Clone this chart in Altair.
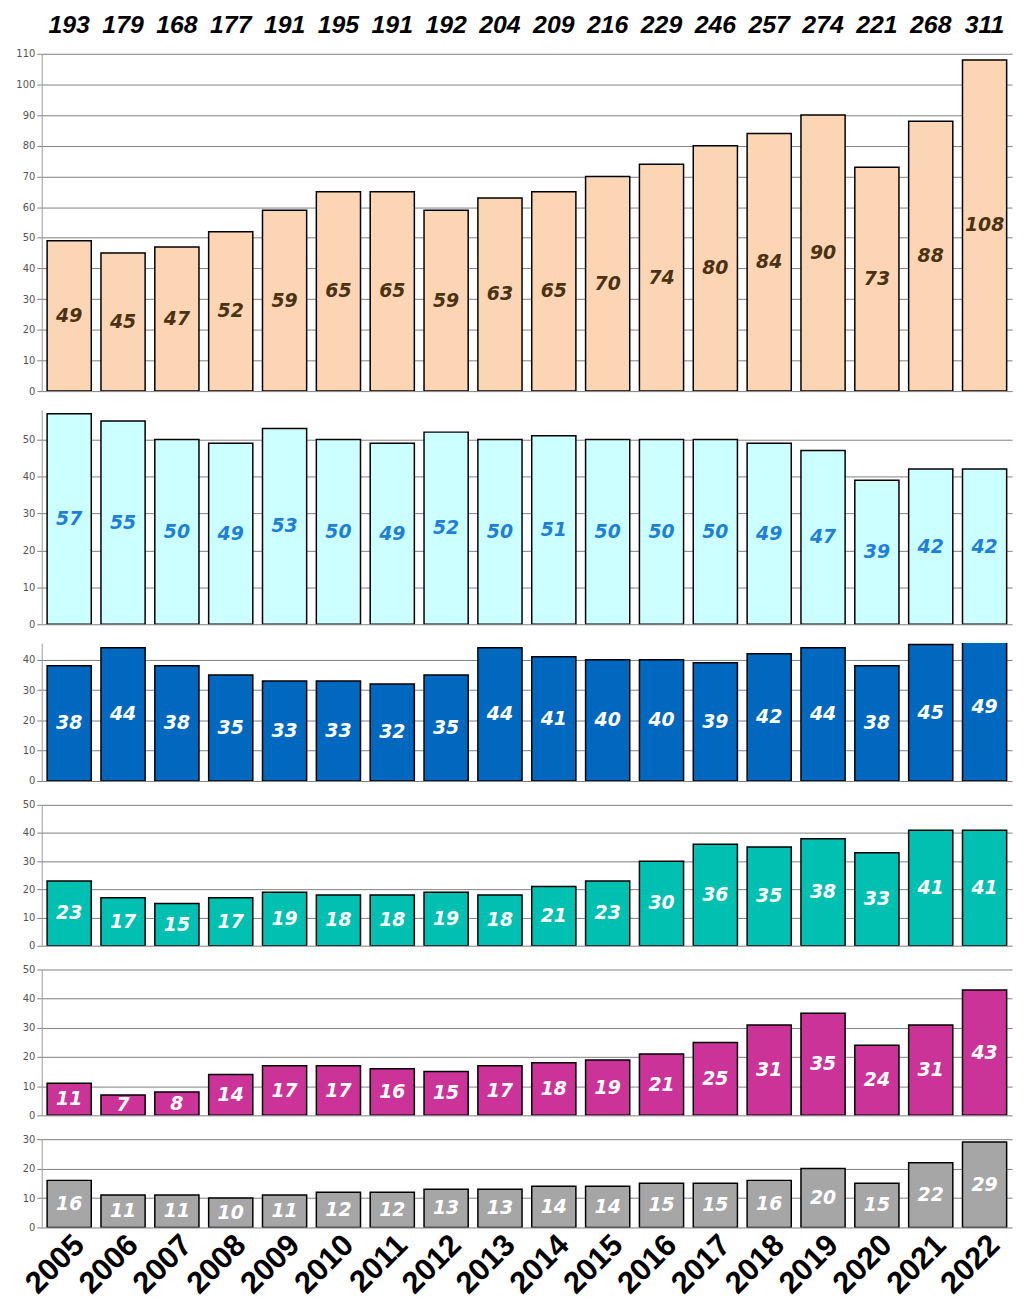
import altair as alt
import pandas as pd

years = [str(y) for y in range(2005, 2023)]
totals = [193, 179, 168, 177, 191, 195, 191, 192, 204, 209, 216, 229, 246, 257, 274, 221, 268, 311]
s1 = [49, 45, 47, 52, 59, 65, 65, 59, 63, 65, 70, 74, 80, 84, 90, 73, 88, 108]
s2 = [57, 55, 50, 49, 53, 50, 49, 52, 50, 51, 50, 50, 50, 49, 47, 39, 42, 42]
s3 = [38, 44, 38, 35, 33, 33, 32, 35, 44, 41, 40, 40, 39, 42, 44, 38, 45, 49]
s4 = [23, 17, 15, 17, 19, 18, 18, 19, 18, 21, 23, 30, 36, 35, 38, 33, 41, 41]
s5 = [11, 7, 8, 14, 17, 17, 16, 15, 17, 18, 19, 21, 25, 31, 35, 24, 31, 43]
s6 = [16, 11, 11, 10, 11, 12, 12, 13, 13, 14, 14, 15, 15, 16, 20, 15, 22, 29]

W = 978
SANS = "Liberation Sans"
xscale = alt.Scale(paddingInner=0.18, paddingOuter=0.1)

panels = [
    # values, fill, label color, domain max, ticks, height
    (s1, "#FCD5B4", "#4a3212", 110, list(range(0, 111, 10)), 340),
    (s2, "#CCFFFF", "#1f7fd6", 58, list(range(0, 51, 10)), 216),
    (s3, "#0068BE", "white", 45.5, list(range(0, 41, 10)), 139),
    (s4, "#00C0B2", "white", 50, list(range(0, 51, 10)), 142),
    (s5, "#CC3399", "white", 50, list(range(0, 51, 10)), 147),
    (s6, "#A6A6A6", "white", 30, list(range(0, 31, 10)), 89),
]

charts = []
for i, (vals, fill, lcol, dmax, ticks, h) in enumerate(panels):
    df = pd.DataFrame({"year": years, "value": vals, "total": totals})
    last = i == len(panels) - 1
    if last:
        xax = alt.Axis(title=None, labelAngle=315, labelFont=SANS, labelFontSize=31,
                       labelFontWeight="bold", labelColor="black", ticks=False, domain=False,
                       labelPadding=2)
    else:
        xax = None
    yscale = alt.Scale(domain=[0, dmax], nice=False, zero=True)
    yax = alt.Axis(title=None, values=ticks, labelFontSize=10, labelColor="#555",
                   labelFont="DejaVu Sans", grid=True, gridColor="#808080",
                   domainColor="#999", tickColor="#808080", tickSize=5,
                   labelOverlap=False, minExtent=29, maxExtent=29)
    base = alt.Chart(df).encode(x=alt.X("year:N", scale=xscale, axis=xax))
    bars = base.mark_bar(fill=fill, stroke="black", strokeWidth=1.5, clip=True).encode(
        y=alt.Y("value:Q", scale=yscale, axis=yax)
    )
    labels = base.transform_calculate(half="datum.value / 2").mark_text(
        font="DejaVu Sans", fontSize=19, fontWeight="bold", fontStyle="italic", color=lcol,
        baseline="middle"
    ).encode(y=alt.Y("half:Q", scale=yscale, axis=yax), text="value:Q")
    layers = [bars, labels]
    if i == 0:
        tot = base.mark_text(
            font=SANS, fontSize=25, fontWeight="bold", fontStyle="italic", color="black",
            baseline="middle"
        ).encode(y=alt.value(-29), text="total:Q")
        layers.append(tot)
    charts.append(alt.layer(*layers).properties(width=W, height=h))

chart = alt.vconcat(*charts, spacing=14).configure_view(
    strokeWidth=0, stroke="transparent"
).properties(padding={"left": 5, "top": 0, "right": 5, "bottom": 0})

chart.save("out.html", embed_options={"renderer": "svg", "actions": False})
